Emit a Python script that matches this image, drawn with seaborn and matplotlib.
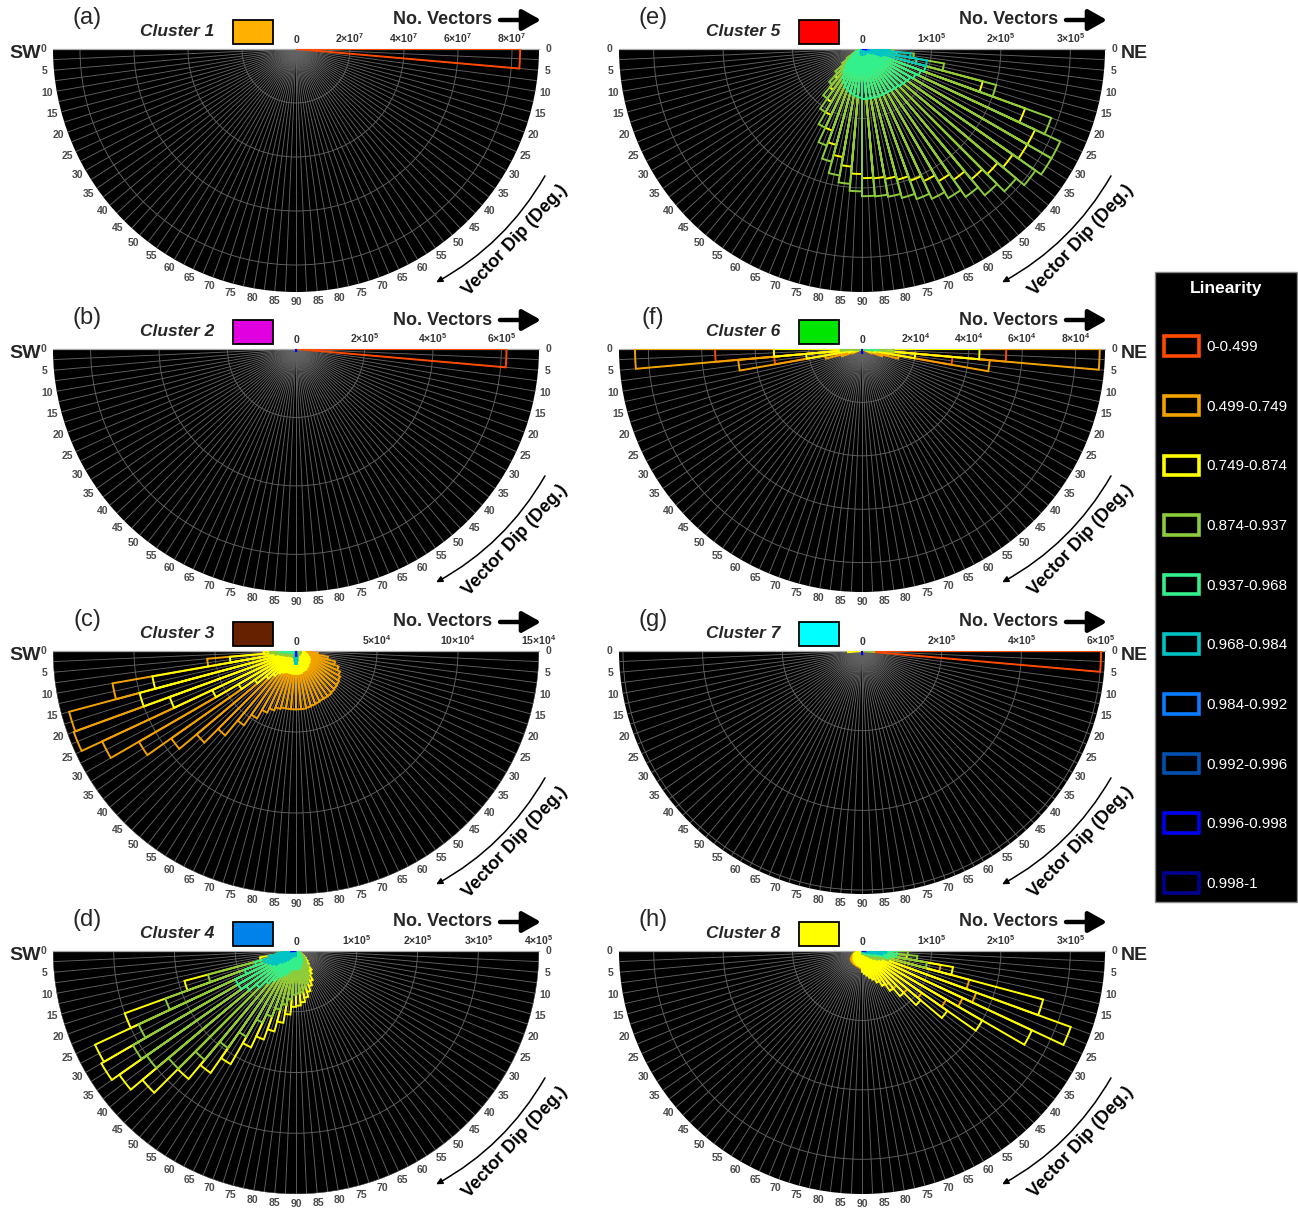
import numpy as np
import pandas as pd
import matplotlib
matplotlib.use("Agg")
import matplotlib.pyplot as plt
from matplotlib.patches import Patch, Rectangle
import seaborn as sns

W, H = 1298, 1209

# ---------------- categories ----------------
lin_labels = ['0-0.499', '0.499-0.749', '0.749-0.874', '0.874-0.937', '0.937-0.968',
              '0.968-0.984', '0.984-0.992', '0.992-0.996', '0.996-0.998', '0.998-1']
lin_keys = ['red', 'orange', 'yellow', 'lime', 'spring', 'teal', 'azure', 'cobalt', 'blue', 'navy']
lin_colors = ['#ff4a00', '#f2a200', '#ffff00', '#8ccc3c', '#34f08c',
              '#00c4c4', '#0a7cff', '#0050b0', '#0000f0', '#000090']

dip_bin_lo = [0, 5, 10, 15, 20, 25, 30, 35, 40, 45, 50, 55, 60, 65, 70, 75, 80, 85]

cluster_names = ['Cluster 1', 'Cluster 2', 'Cluster 3', 'Cluster 4',
                 'Cluster 5', 'Cluster 6', 'Cluster 7', 'Cluster 8']
cluster_colors = ['#ffb000', '#e000e0', '#662200', '#0082ea',
                  '#ff0000', '#00e600', '#00ffff', '#ffff00']
panel_letters = ['(a)', '(b)', '(c)', '(d)', '(e)', '(f)', '(g)', '(h)']

# radial axis (No. Vectors) ticks and labels per cluster
r_ticks = [[0, 2e7, 4e7, 6e7, 8e7], [0, 2e5, 4e5, 6e5], [0, 5e4, 10e4, 15e4], [0, 1e5, 2e5, 3e5, 4e5],
           [0, 1e5, 2e5, 3e5], [0, 2e4, 4e4, 6e4, 8e4], [0, 2e5, 4e5, 6e5], [0, 1e5, 2e5, 3e5]]
r_tick_labels = [['0', '2×10$^{7}$', '4×10$^{7}$', '6×10$^{7}$', '8×10$^{7}$'],
                 ['0', '2×10$^{5}$', '4×10$^{5}$', '6×10$^{5}$'],
                 ['0', '5×10$^{4}$', '10×10$^{4}$', '15×10$^{4}$'],
                 ['0', '1×10$^{5}$', '2×10$^{5}$', '3×10$^{5}$', '4×10$^{5}$'],
                 ['0', '1×10$^{5}$', '2×10$^{5}$', '3×10$^{5}$'],
                 ['0', '2×10$^{4}$', '4×10$^{4}$', '6×10$^{4}$', '8×10$^{4}$'],
                 ['0', '2×10$^{5}$', '4×10$^{5}$', '6×10$^{5}$'],
                 ['0', '1×10$^{5}$', '2×10$^{5}$', '3×10$^{5}$']]
r_max = [9.0e7, 7.1e5, 1.5e5, 4.0e5, 3.5e5, 9.1e4, 6.1e5, 3.5e5]

# ---------------- data: counts per 5-degree dip bin (0-5 ... 85-90) ----------------
# Cluster 1
c1_ne_red = [8.3e7, 0, 0, 0, 0, 0, 0, 0, 0, 0, 0, 0, 0, 0, 0, 0, 0, 0]
# Cluster 2
c2_ne_red = [6.15e5, 0, 0, 0, 0, 0, 0, 0, 0, 0, 0, 0, 0, 0, 0, 0, 0, 0]
c2_ne_blue = [0, 0, 0, 0, 0, 0, 0, 0, 0, 0, 0, 0, 0, 0, 0, 0, 0, 6e3]
# Cluster 3
c3_sw_red = [6e3, 4e3, 2e3, 0, 0, 0, 0, 0, 0, 0, 0, 0, 0, 0, 0, 0, 0, 0]
c3_sw_orange = [1.2e4, 5.5e4, 1.15e5, 1.45e5, 1.46e5, 1.32e5, 1.12e5, 9.4e4, 8.0e4, 6.8e4, 5.6e4, 4.8e4, 4.2e4, 3.9e4, 3.7e4, 3.6e4, 3.6e4, 3.6e4]
c3_sw_yellow = [2.0e4, 4.1e4, 9.0e4, 1.0e5, 8.3e4, 5.7e4, 4.1e4, 3.1e4, 2.4e4, 2.0e4, 1.7e4, 1.55e4, 1.45e4, 1.4e4, 1.4e4, 1.4e4, 1.4e4, 1.4e4]
c3_sw_lime = [1.6e4, 1.3e4, 1.0e4, 8e3, 7e3, 6e3, 5e3, 5e3, 4e3, 4e3, 4e3, 4e3, 4e3, 4e3, 4e3, 4e3, 4e3, 4e3]
c3_sw_spring = [1.0e4, 6e3, 4e3, 3e3, 3e3, 2e3, 2e3, 2e3, 2e3, 2e3, 2e3, 2e3, 2e3, 2e3, 2e3, 2e3, 2e3, 2e3]
c3_sw_teal = [0, 0, 0, 0, 0, 0, 0, 0, 0, 0, 0, 0, 0, 0, 0, 4e3, 6e3, 8e3]
c3_ne_red = [9e3, 6e3, 4e3, 3e3, 2e3, 0, 0, 0, 0, 0, 0, 0, 0, 0, 0, 0, 0, 0]
c3_ne_orange = [9e3, 1.35e4, 2.0e4, 2.5e4, 2.8e4, 3.0e4, 3.15e4, 3.25e4, 3.3e4, 3.35e4, 3.4e4, 3.4e4, 3.4e4, 3.45e4, 3.5e4, 3.55e4, 3.6e4, 3.6e4]
c3_ne_yellow = [4e3, 5e3, 6e3, 7e3, 8e3, 9e3, 1.0e4, 1.0e4, 1.1e4, 1.1e4, 1.2e4, 1.2e4, 1.3e4, 1.3e4, 1.3e4, 1.4e4, 1.4e4, 1.4e4]
c3_ne_lime = [3e3, 3e3, 3e3, 3e3, 3e3, 3e3, 3e3, 3e3, 3e3, 3e3, 3e3, 3e3, 3e3, 3e3, 3e3, 3e3, 3e3, 3e3]
c3_ne_teal = [0, 0, 0, 0, 0, 0, 0, 0, 0, 0, 0, 0, 0, 0, 0, 4e3, 6e3, 8e3]
c3_ne_blue = [0, 0, 0, 0, 0, 0, 0, 0, 0, 0, 0, 0, 0, 0, 0, 0, 0, 3e3]
# Cluster 4
c4_sw_yellow = [1.5e4, 3.0e4, 6.0e4, 1.9e5, 3.0e5, 3.65e5, 3.7e5, 3.55e5, 3.3e5, 2.75e5, 2.45e5, 2.15e5, 1.75e5, 1.55e5, 1.37e5, 1.2e5, 1.05e5, 9.2e4]
c4_sw_lime = [1.2e4, 2.5e4, 4.8e4, 1.5e5, 2.29e5, 2.86e5, 3.1e5, 3.0e5, 2.74e5, 2.34e5, 1.95e5, 1.63e5, 1.3e5, 1.15e5, 1.0e5, 9.0e4, 8.0e4, 7.2e4]
c4_sw_spring = [1.0e4, 2.0e4, 4.0e4, 7.0e4, 9.0e4, 1.1e5, 1.1e5, 1.0e5, 8.5e4, 7.0e4, 6.0e4, 5.0e4, 4.5e4, 4.0e4, 3.5e4, 3.0e4, 3.0e4, 3.0e4]
c4_sw_teal = [1.5e4, 3.0e4, 4.5e4, 5.5e4, 5.0e4, 4.5e4, 4.0e4, 3.0e4, 2.5e4, 2.0e4, 1.5e4, 1.0e4, 1.0e4, 8e3, 8e3, 8e3, 8e3, 8e3]
c4_sw_blue = [8e3, 0, 0, 0, 0, 0, 0, 0, 0, 0, 0, 0, 0, 0, 0, 0, 0, 0]
c4_ne_yellow = [0, 0, 0, 0, 5e3, 1.0e4, 1.5e4, 2.0e4, 2.5e4, 3.0e4, 4.0e4, 4.5e4, 5.5e4, 6.2e4, 7.0e4, 7.8e4, 8.5e4, 9.0e4]
c4_ne_lime = [0, 0, 0, 0, 4e3, 8e3, 1.2e4, 1.6e4, 2.0e4, 2.4e4, 3.2e4, 3.6e4, 4.4e4, 5.0e4, 5.6e4, 6.2e4, 6.8e4, 7.0e4]
c4_ne_spring = [0, 0, 0, 0, 2e3, 4e3, 6e3, 8e3, 1.0e4, 1.2e4, 1.5e4, 1.8e4, 2.0e4, 2.2e4, 2.5e4, 2.8e4, 3.0e4, 3.0e4]
# Cluster 5
c5_sw_lime = [3e3, 4e3, 5e3, 7e3, 1.0e4, 1.5e4, 2.5e4, 3.5e4, 5.0e4, 6.7e4, 8.7e4, 1.05e5, 1.25e5, 1.48e5, 1.68e5, 1.85e5, 1.95e5, 2.05e5]
c5_sw_yellow = [0, 0, 0, 0, 8e3, 1.2e4, 2.0e4, 2.8e4, 4.0e4, 5.5e4, 7.2e4, 8.8e4, 1.05e5, 1.25e5, 1.43e5, 1.58e5, 1.7e5, 1.8e5]
c5_sw_spring = [2e3, 3e3, 4e3, 5e3, 7e3, 1.0e4, 1.5e4, 2.0e4, 2.8e4, 3.5e4, 4.2e4, 5.0e4, 5.5e4, 6.0e4, 6.3e4, 6.6e4, 6.8e4, 7.0e4]
c5_sw_teal = [0, 0, 0, 0, 0, 0, 0, 0, 0, 0, 0, 0, 0, 5e3, 6e3, 7e3, 8e3, 8e3]
c5_ne_lime = [4.5e4, 7.5e4, 1.2e5, 2.0e5, 2.9e5, 3.15e5, 3.15e5, 3.05e5, 2.9e5, 2.75e5, 2.6e5, 2.48e5, 2.38e5, 2.3e5, 2.22e5, 2.16e5, 2.13e5, 2.12e5]
c5_ne_yellow = [0, 0, 0, 1.8e5, 2.5e5, 2.75e5, 2.75e5, 2.65e5, 2.55e5, 2.45e5, 2.3e5, 2.2e5, 2.1e5, 2.02e5, 1.95e5, 1.9e5, 1.87e5, 1.86e5]
c5_ne_spring = [3.0e4, 5.0e4, 8.0e4, 9.5e4, 9.0e4, 8.5e4, 8.0e4, 7.8e4, 7.6e4, 7.4e4, 7.3e4, 7.2e4, 7.2e4, 7.2e4, 7.2e4, 7.2e4, 7.2e4, 7.2e4]
c5_ne_teal = [4.0e4, 7.0e4, 9.5e4, 3.0e4, 1.5e4, 1.0e4, 8e3, 8e3, 8e3, 8e3, 8e3, 8e3, 8e3, 8e3, 8e3, 8e3, 8e3, 8e3]
c5_ne_azure = [1.0e4, 0, 0, 0, 0, 0, 0, 0, 0, 0, 0, 0, 0, 0, 0, 0, 0, 0]
c5_ne_blue = [6e3, 0, 0, 0, 0, 0, 0, 0, 0, 0, 0, 0, 0, 0, 0, 0, 0, 0]
# Cluster 6
c6_sw_red = [5.5e4, 3.3e4, 1.0e4, 6e3, 3e3, 0, 0, 0, 0, 0, 0, 0, 0, 0, 0, 0, 0, 0]
c6_sw_orange = [8.5e4, 4.65e4, 1.4e4, 8e3, 4e3, 0, 0, 0, 0, 0, 0, 0, 0, 0, 0, 0, 0, 0]
c6_sw_yellow = [3.3e4, 2.1e4, 5e3, 3e3, 0, 0, 0, 0, 0, 0, 0, 0, 0, 0, 0, 0, 0, 0]
c6_sw_lime = [8e3, 3e3, 2e3, 0, 0, 0, 0, 0, 0, 0, 0, 0, 0, 0, 0, 0, 0, 0]
c6_ne_red = [5.4e4, 3.4e4, 1.0e4, 6e3, 3e3, 0, 0, 0, 0, 0, 0, 0, 0, 0, 0, 0, 0, 0]
c6_ne_orange = [8.9e4, 4.8e4, 1.4e4, 8e3, 4e3, 0, 0, 0, 0, 0, 0, 0, 0, 0, 0, 0, 0, 0]
c6_ne_yellow = [4.4e4, 2.0e4, 5e3, 3e3, 0, 0, 0, 0, 0, 0, 0, 0, 0, 0, 0, 0, 0, 0]
c6_ne_lime = [1.2e4, 4e3, 2e3, 0, 0, 0, 0, 0, 0, 0, 0, 0, 0, 0, 0, 0, 0, 0]
c6_ne_spring = [6e3, 0, 0, 0, 0, 0, 0, 0, 0, 0, 0, 0, 0, 0, 0, 0, 0, 0]
c6_ne_blue = [0, 0, 0, 0, 0, 0, 0, 0, 0, 0, 0, 0, 0, 0, 0, 0, 0, 1.5e3]
# Cluster 7
c7_ne_red = [6.0e5, 0, 0, 0, 0, 0, 0, 0, 0, 0, 0, 0, 0, 0, 0, 0, 0, 0]
c7_sw_yellow = [3.5e4, 0, 0, 0, 0, 0, 0, 0, 0, 0, 0, 0, 0, 0, 0, 0, 0, 0]
c7_ne_lime = [3.0e4, 0, 0, 0, 0, 0, 0, 0, 0, 0, 0, 0, 0, 0, 0, 0, 0, 0]
c7_ne_blue = [0, 0, 0, 0, 0, 0, 0, 0, 0, 0, 0, 0, 0, 0, 0, 0, 0, 8e3]
# Cluster 8
c8_ne_yellow = [4.0e4, 6.5e4, 1.33e5, 2.7e5, 3.2e5, 2.7e5, 2.0e5, 1.5e5, 1.1e5, 8.5e4, 7.0e4, 5.8e4, 5.0e4, 4.4e4, 4.0e4, 3.6e4, 3.3e4, 3.0e4]
c8_ne_orange = [3.0e4, 4.5e4, 1.15e5, 1.6e5, 1.75e5, 1.6e5, 1.4e5, 1.05e5, 8.5e4, 7.0e4, 6.0e4, 5.0e4, 4.5e4, 4.0e4, 3.6e4, 3.3e4, 3.0e4, 2.8e4]
c8_ne_lime = [6.6e4, 8.0e4, 9.5e4, 4.0e4, 3.0e4, 2.5e4, 2.0e4, 1.5e4, 1.0e4, 8e3, 6e3, 5e3, 4e3, 4e3, 4e3, 4e3, 4e3, 4e3]
c8_ne_spring = [5.0e4, 5.0e4, 4.0e4, 2.0e4, 1.5e4, 1.0e4, 8e3, 6e3, 5e3, 4e3, 3e3, 3e3, 3e3, 3e3, 3e3, 3e3, 3e3, 3e3]
c8_ne_teal = [3.5e4, 3.0e4, 1.5e4, 8e3, 5e3, 3e3, 0, 0, 0, 0, 0, 0, 0, 0, 0, 0, 0, 0]
c8_ne_blue = [5e3, 0, 0, 0, 0, 0, 0, 0, 0, 0, 0, 0, 0, 0, 0, 0, 0, 0]
c8_sw_orange = [5e3, 8e3, 1.0e4, 1.2e4, 1.4e4, 1.6e4, 1.8e4, 2.0e4, 2.0e4, 2.1e4, 2.1e4, 2.2e4, 2.2e4, 2.2e4, 2.3e4, 2.3e4, 2.4e4, 2.5e4]
c8_sw_yellow = [4e3, 6e3, 8e3, 1.0e4, 1.2e4, 1.3e4, 1.4e4, 1.5e4, 1.6e4, 1.7e4, 1.8e4, 1.9e4, 2.0e4, 2.0e4, 2.1e4, 2.1e4, 2.2e4, 2.3e4]

series = [
    (1, 'NE', 'red', c1_ne_red),
    (2, 'NE', 'red', c2_ne_red), (2, 'NE', 'blue', c2_ne_blue),
    (3, 'SW', 'red', c3_sw_red), (3, 'SW', 'orange', c3_sw_orange), (3, 'SW', 'yellow', c3_sw_yellow),
    (3, 'SW', 'lime', c3_sw_lime), (3, 'SW', 'spring', c3_sw_spring), (3, 'SW', 'teal', c3_sw_teal),
    (3, 'NE', 'red', c3_ne_red), (3, 'NE', 'orange', c3_ne_orange), (3, 'NE', 'yellow', c3_ne_yellow),
    (3, 'NE', 'lime', c3_ne_lime), (3, 'NE', 'teal', c3_ne_teal), (3, 'NE', 'blue', c3_ne_blue),
    (4, 'SW', 'yellow', c4_sw_yellow), (4, 'SW', 'lime', c4_sw_lime), (4, 'SW', 'spring', c4_sw_spring),
    (4, 'SW', 'teal', c4_sw_teal), (4, 'SW', 'blue', c4_sw_blue),
    (4, 'NE', 'yellow', c4_ne_yellow), (4, 'NE', 'lime', c4_ne_lime), (4, 'NE', 'spring', c4_ne_spring),
    (5, 'SW', 'yellow', c5_sw_yellow), (5, 'SW', 'lime', c5_sw_lime), (5, 'SW', 'spring', c5_sw_spring),
    (5, 'SW', 'teal', c5_sw_teal),
    (5, 'NE', 'yellow', c5_ne_yellow), (5, 'NE', 'lime', c5_ne_lime), (5, 'NE', 'spring', c5_ne_spring),
    (5, 'NE', 'teal', c5_ne_teal), (5, 'NE', 'azure', c5_ne_azure), (5, 'NE', 'blue', c5_ne_blue),
    (6, 'SW', 'red', c6_sw_red), (6, 'SW', 'orange', c6_sw_orange), (6, 'SW', 'yellow', c6_sw_yellow),
    (6, 'SW', 'lime', c6_sw_lime),
    (6, 'NE', 'red', c6_ne_red), (6, 'NE', 'orange', c6_ne_orange), (6, 'NE', 'yellow', c6_ne_yellow),
    (6, 'NE', 'lime', c6_ne_lime), (6, 'NE', 'spring', c6_ne_spring), (6, 'NE', 'blue', c6_ne_blue),
    (7, 'NE', 'red', c7_ne_red), (7, 'SW', 'yellow', c7_sw_yellow), (7, 'NE', 'lime', c7_ne_lime),
    (7, 'NE', 'blue', c7_ne_blue),
    (8, 'NE', 'orange', c8_ne_orange), (8, 'NE', 'yellow', c8_ne_yellow), (8, 'NE', 'lime', c8_ne_lime),
    (8, 'NE', 'spring', c8_ne_spring), (8, 'NE', 'teal', c8_ne_teal), (8, 'NE', 'blue', c8_ne_blue),
    (8, 'SW', 'orange', c8_sw_orange), (8, 'SW', 'yellow', c8_sw_yellow),
]

rows = []
for cl, side, key, vals in series:
    for lo, v in zip(dip_bin_lo, vals):
        if v > 0:
            rows.append((cl, side, lo, lin_keys.index(key), v))
df = pd.DataFrame(rows, columns=['cluster', 'side', 'dip_lo', 'lin_idx', 'count'])

# ---------------- styling ----------------
sns.set_theme(style='white')
plt.rcParams['font.family'] = ['Liberation Sans', 'DejaVu Sans']
plt.rcParams['mathtext.fontset'] = 'custom'
plt.rcParams['mathtext.rm'] = 'Liberation Sans:bold'
plt.rcParams['mathtext.bf'] = 'Liberation Sans:bold'
plt.rcParams['mathtext.it'] = 'Liberation Sans:bold'
plt.rcParams['mathtext.default'] = 'rm'

palette = sns.color_palette(lin_colors)

fig = plt.figure(figsize=(W / 100, H / 100), dpi=100)
fig.patch.set_facecolor('white')


def fx(x):
    return x / W


def fy(y):
    return 1 - y / H


col_cx = [296, 862]
row_cy = [49, 349, 651, 951]
R = 243
bin_w = 5.0

for i in range(8):
    col, row = i // 4, i % 4
    cx, cy = col_cx[col], row_cy[row]
    ax = fig.add_axes([fx(cx - R), fy(cy + 1.5 * R), 2 * R / W, 2 * R / H], projection='polar')
    ax.set_thetamin(180)
    ax.set_thetamax(360)
    ax.set_facecolor('black')
    rmax = r_max[i]
    ax.set_ylim(0, rmax)

    sub = df[df['cluster'] == i + 1].sort_values('lin_idx', kind='stable')
    for _, rw in sub.iterrows():
        mid = rw['dip_lo'] + bin_w / 2
        th = 180 + mid if rw['side'] == 'SW' else 360 - mid
        ax.bar(np.deg2rad(th), rw['count'], width=np.deg2rad(bin_w), bottom=0,
               fill=False, edgecolor=palette[int(rw['lin_idx'])], linewidth=1.4, zorder=3)

    # grids
    tdeg = np.arange(180, 360.01, 2.5)
    labs = []
    for t in tdeg:
        if abs(t % 5) < 1e-6:
            d = t - 180 if t <= 270 else 360 - t
            labs.append(str(int(round(d))))
        else:
            labs.append('')
    ax.set_xticks(np.deg2rad(tdeg))
    ax.set_xticklabels(labs)
    ax.tick_params(axis='x', pad=-6, labelsize=7.5, labelcolor='#4a4a4a')
    for lbl in ax.get_xticklabels():
        lbl.set_fontweight('bold')
    ax.set_yticks([t for t in r_ticks[i] if t > 0])
    ax.set_yticklabels([])
    ax.grid(True, color='#626262', linewidth=0.65)
    ax.spines['polar'].set_visible(False)
    ax.spines['start'].set_color('#a8a8a8')
    ax.spines['end'].set_color('#a8a8a8')
    ax.spines['start'].set_linewidth(0.9)
    ax.spines['end'].set_linewidth(0.9)

    for t, tl in zip(r_ticks[i], r_tick_labels[i]):
        ax.annotate(tl, xy=(np.deg2rad(360), t), xytext=(0, 3), textcoords='offset points',
                    ha='center', va='bottom', fontsize=7.5, fontweight='bold', color='#333333',
                    annotation_clip=False)

    # dip arrow + label
    ax.annotate('', xy=(np.deg2rad(360 - 59), 1.12 * rmax), xytext=(np.deg2rad(360 - 27), 1.15 * rmax),
                arrowprops=dict(arrowstyle='-|>', connectionstyle='arc3,rad=-0.14', color='black',
                                lw=1.1, mutation_scale=9, shrinkA=0, shrinkB=0),
                annotation_clip=False)
    fig.text(fx(cx + 219), fy(cy + 191), 'Vector Dip (Deg.)', rotation=47, ha='center', va='center',
             fontsize=13, fontweight='bold', color='black')

    # titles
    fig.text(fx(cx - 209), fy(cy - 31), panel_letters[i], ha='center', va='center', fontsize=17)
    fig.text(fx(cx - 82), fy(cy - 17), cluster_names[i], ha='right', va='center', fontsize=12.5,
             fontweight='bold', fontstyle='italic')
    fig.patches.append(Rectangle((fx(cx - 63), fy(cy - 5)), 40 / W, 24 / H, transform=fig.transFigure,
                                 facecolor=cluster_colors[i], edgecolor='black', linewidth=1.3))
    fig.text(fx(cx + 196), fy(cy - 29), 'No. Vectors', ha='right', va='center', fontsize=13,
             fontweight='bold')
    ax.annotate('', xy=(fx(cx + 245), fy(cy - 29)), xytext=(fx(cx + 204), fy(cy - 29)),
                xycoords='figure fraction', textcoords='figure fraction',
                arrowprops=dict(arrowstyle='-|>,head_length=0.8,head_width=0.45', lw=3.2,
                                color='black', mutation_scale=14, shrinkA=0, shrinkB=0),
                annotation_clip=False)
    if col == 0:
        fig.text(fx(25), fy(cy + 5), 'SW', ha='center', va='center', fontsize=14, fontweight='bold')
    else:
        fig.text(fx(1134), fy(cy + 5), 'NE', ha='center', va='center', fontsize=14, fontweight='bold')

# legend
handles = [Patch(facecolor='black', edgecolor=palette[k], linewidth=2.6) for k in range(10)]
leg = fig.legend(handles, lin_labels, loc='upper left', bbox_to_anchor=(fx(1155), fy(272)),
                 bbox_transform=fig.transFigure, title='Linearity', fontsize=11,
                 title_fontproperties={'weight': 'bold', 'size': 12.5},
                 facecolor='black', edgecolor='#888888', framealpha=1, fancybox=False,
                 labelcolor='white', handlelength=2.3, handleheight=1.6, handletextpad=0.45,
                 labelspacing=2.62, borderpad=0.6, borderaxespad=0)
leg.get_title().set_color('white')
leg.get_frame().set_linewidth(1.0)

fig.savefig('out.png', dpi=100, facecolor='white')
